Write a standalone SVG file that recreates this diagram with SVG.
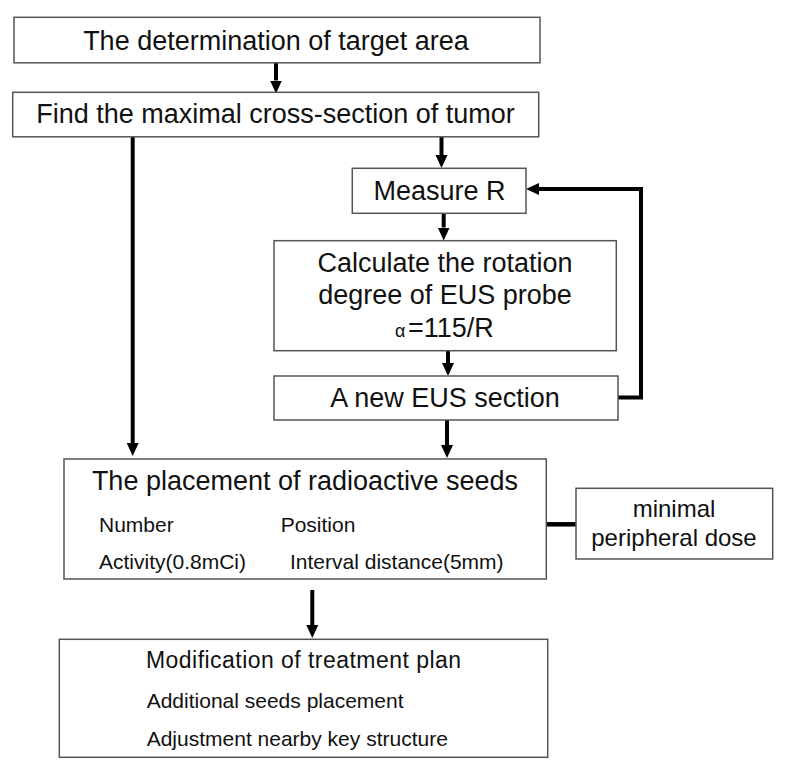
<svg xmlns="http://www.w3.org/2000/svg" width="787" height="767" viewBox="0 0 787 767">
<defs>
<style>
.box{fill:#fff;stroke:#555;stroke-width:1.5}
.t{font-family:"Liberation Sans",Arial,sans-serif;fill:#111}
.big{font-size:27px}
.mid{font-size:24px}
.sm{font-size:21px}
.c{text-anchor:middle}
.ln{fill:none;stroke:#000;stroke-width:4;stroke-linecap:butt;stroke-linejoin:miter}
</style>
<marker id="ah" markerUnits="userSpaceOnUse" markerWidth="14" markerHeight="14" viewBox="0 -7 14 14" refX="0" refY="0" orient="auto">
<path d="M0,-6 L13,0 L0,6 Z" fill="#000"/>
</marker>
</defs>
<rect width="787" height="767" fill="#fff"/>
<g id="connectors">
<line class="ln" x1="276" y1="63" x2="276" y2="80.5" marker-end="url(#ah)"/>
<line class="ln" x1="132.7" y1="137" x2="132.7" y2="443" marker-end="url(#ah)"/>
<line class="ln" x1="441.5" y1="137" x2="441.5" y2="155" marker-end="url(#ah)"/>
<line class="ln" x1="443.7" y1="213" x2="443.7" y2="227.5" marker-end="url(#ah)"/>
<line class="ln" x1="448" y1="351" x2="448" y2="363" marker-end="url(#ah)"/>
<line class="ln" x1="447" y1="420" x2="447" y2="445" marker-end="url(#ah)"/>
<path class="ln" d="M618,397.5 H641 V189 H539" marker-end="url(#ah)"/>
<line class="ln" x1="546" y1="524.3" x2="576" y2="524.3" style="stroke-width:4.5"/>
<line class="ln" x1="312.3" y1="590" x2="312.3" y2="625" marker-end="url(#ah)"/>
</g>
<g id="target">
<rect class="box" x="14" y="17.3" width="526" height="45.5"/>
<text class="t big c" x="276" y="50">The determination of target area</text>
</g>
<g id="crosssection">
<rect class="box" x="12.7" y="92.3" width="526" height="44.5"/>
<text class="t big c" x="275.5" y="123.3">Find the maximal cross-section of tumor</text>
</g>
<g id="measure">
<rect class="box" x="352.3" y="168.3" width="173.7" height="45"/>
<text class="t big c" x="439.5" y="200">Measure R</text>
</g>
<g id="calculate">
<rect class="box" x="274" y="240.7" width="342.3" height="110"/>
<text class="t big c" x="445" y="271.7">Calculate the rotation</text>
<text class="t big c" x="445" y="304">degree of EUS probe</text>
<text class="t big" y="337.3"><tspan x="395" style="font-size:18px">α</tspan><tspan x="408">=115/R</tspan></text>
</g>
<g id="neweus">
<rect class="box" x="274" y="376" width="344" height="44"/>
<text class="t big c" x="445" y="406.7">A new EUS section</text>
</g>
<g id="placement">
<rect class="box" x="64" y="459" width="482.3" height="120"/>
<text class="t big c" x="305" y="490">The placement of radioactive seeds</text>
<text class="t sm" x="99" y="531.7">Number</text>
<text class="t sm" x="280.7" y="531.7">Position</text>
<text class="t sm" x="99" y="569.3">Activity(0.8mCi)</text>
<text class="t sm" x="290" y="569.3">Interval distance(5mm)</text>
</g>
<g id="minimal">
<rect class="box" x="576" y="488.3" width="196.7" height="70.7"/>
<text class="t mid c" x="674" y="517.3">minimal</text>
<text class="t mid c" x="674" y="545.7">peripheral dose</text>
</g>
<g id="modification">
<rect class="box" x="59.3" y="639.3" width="488.4" height="118"/>
<text class="t" x="146" y="668.3" style="font-size:23px" textLength="315" lengthAdjust="spacing">Modification of treatment plan</text>
<text class="t sm" x="146.7" y="708.3">Additional seeds placement</text>
<text class="t sm" x="146.7" y="745.7">Adjustment nearby key structure</text>
</g>
</svg>
